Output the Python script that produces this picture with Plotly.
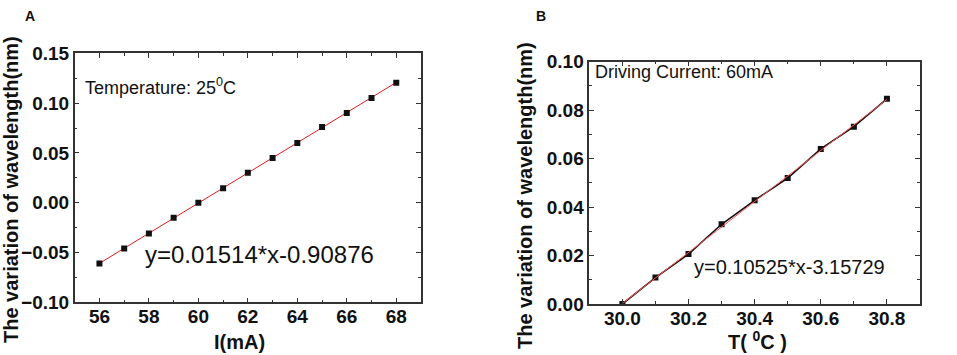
import plotly.graph_objects as go

# Panel A data
current_mA = [56, 57, 58, 59, 60, 61, 62, 63, 64, 65, 66, 67, 68]
dwl_A = [-0.061, -0.046, -0.031, -0.015, 0.000, 0.0145, 0.030, 0.0448, 0.060, 0.076, 0.090, 0.105, 0.1205]
fitA_slope, fitA_icpt = 0.01514, -0.90876

# Panel B data
temp_C = [30.0, 30.1, 30.2, 30.3, 30.4, 30.5, 30.6, 30.7, 30.8]
dwl_B = [0.000, 0.0109, 0.0206, 0.0329, 0.0428, 0.0520, 0.0640, 0.0732, 0.0847]
fitB_slope, fitB_icpt = 0.10525, -3.15729

fitA = [fitA_slope * x + fitA_icpt for x in current_mA]
fitB = [fitB_slope * x + fitB_icpt for x in temp_C]

W, H = 957, 355
def px(x): return x / W
def py(y): return 1 - y / H

fig = go.Figure()
fig.add_trace(go.Scatter(x=current_mA, y=fitA, mode="lines",
                         line=dict(color="#e31a1c", width=1), xaxis="x", yaxis="y", showlegend=False))
fig.add_trace(go.Scatter(x=current_mA, y=dwl_A, mode="markers",
                         marker=dict(symbol="square", size=6, color="#111"), xaxis="x", yaxis="y", showlegend=False))
fig.add_trace(go.Scatter(x=temp_C, y=dwl_B, mode="lines+markers",
                         line=dict(color="#111", width=1.6),
                         marker=dict(symbol="square", size=6, color="#111"), xaxis="x2", yaxis="y2", showlegend=False))
fig.add_trace(go.Scatter(x=temp_C, y=fitB, mode="lines",
                         line=dict(color="#ff5050", width=1), xaxis="x2", yaxis="y2", showlegend=False))

tickfont = dict(family="Liberation Sans, Arial", size=19, color="#111", weight="bold")
common = dict(showline=True, linecolor="#333", linewidth=1.5, mirror="allticks",
              ticks="inside", ticklen=5, tickwidth=1.3, tickcolor="#333",
              showgrid=False, zeroline=False, tickfont=tickfont, automargin=False)

fig.update_layout(
    width=W, height=H, margin=dict(l=0, r=0, t=0, b=0),
    paper_bgcolor="white", plot_bgcolor="white",
    xaxis=dict(domain=[px(74.7), px(421)], anchor="y", range=[55, 69],
               tickvals=[56, 58, 60, 62, 64, 66, 68], ticklabelstandoff=-4,
               minor=dict(tickvals=list(range(55, 70)), ticks="inside", ticklen=3, tickcolor="#333"),
               **common),
    yaxis=dict(domain=[py(302.3), py(53.3)], anchor="x", range=[-0.10, 0.15],
               tickvals=[-0.10, -0.05, 0.0, 0.05, 0.10, 0.15], tickformat=".2f",
               minor=dict(dtick=0.025, ticks="inside", ticklen=3, tickcolor="#333"),
               **common),
    xaxis2=dict(domain=[px(589.3), px(920)], anchor="y2", range=[29.9, 30.9],
                tickvals=[30.0, 30.2, 30.4, 30.6, 30.8], tickformat=".1f", ticklabelstandoff=-4,
                minor=dict(dtick=0.1, ticks="inside", ticklen=3, tickcolor="#333"),
                **common),
    yaxis2=dict(domain=[py(304), py(61.7)], anchor="x2", range=[0, 0.10],
                tickvals=[0, 0.02, 0.04, 0.06, 0.08, 0.10], tickformat=".2f",
                minor=dict(dtick=0.01, ticks="inside", ticklen=3, tickcolor="#333"),
                **common),
)

bold = dict(family="Liberation Sans, Arial", size=20, color="#111", weight="bold")
reg = dict(family="Liberation Sans, Arial", color="#111")
c = dict(xanchor="center", yanchor="middle", showarrow=False, xref="paper", yref="paper")
ann = [
    dict(text="A", x=px(30), y=py(16), font=dict(family="Liberation Sans, Arial", size=14, color="#111", weight="bold"), **c),
    dict(text="B", x=px(541), y=py(16), font=dict(family="Liberation Sans, Arial", size=14, color="#111", weight="bold"), **c),
    dict(text="The variation of wavelength(nm)", x=px(11), y=py(190), textangle=-90, font=bold, **c),
    dict(text="The variation of wavelength(nm)", x=px(525), y=py(196), textangle=-90, font=bold, **c),
    dict(text="I(mA)", x=px(240), y=py(342), font=bold, **c),
    dict(text="T( <sup>0</sup>C )", x=px(757), y=py(340), font=bold, **c),
    dict(text="Temperature: 25<sup>0</sup>C", x=55.35, y=0.117, xref="x", yref="y",
         xanchor="left", yanchor="middle", showarrow=False, font=dict(size=18, **reg)),
    dict(text="y=0.01514*x-0.90876", x=57.76, y=-0.0525, xref="x", yref="y",
         xanchor="left", yanchor="middle", showarrow=False, font=dict(size=24, **reg)),
    dict(text="Driving Current: 60mA", x=29.912, y=0.0959, xref="x2", yref="y2",
         xanchor="left", yanchor="middle", showarrow=False, font=dict(size=18, **reg)),
    dict(text="y=0.10525*x-3.15729", x=30.21, y=0.0154, xref="x2", yref="y2",
         xanchor="left", yanchor="middle", showarrow=False, font=dict(size=20, **reg)),
]
fig.update_layout(annotations=ann)
fig.write_html("out.html", config={"displayModeBar": False},
               post_script="document.body.style.margin='0';")
